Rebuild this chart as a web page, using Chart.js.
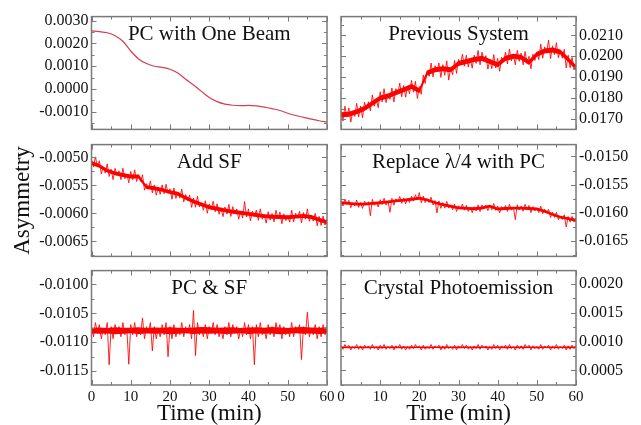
<!DOCTYPE html>
<html>
<head>
<meta charset="utf-8">
<script src="https://cdn.jsdelivr.net/npm/chart.js@4.4.0/dist/chart.umd.min.js"></script>
<style>
html, body { margin: 0; padding: 0; background: #fff; }
#wrap { position: relative; width: 641px; height: 425px; overflow: hidden; background: #fff; }
#wrap canvas { position: absolute; }
</style>
</head>
<body>
<div id="wrap">
  <canvas id="pcBeamChart"></canvas>
  <canvas id="previousChart"></canvas>
  <canvas id="addSFChart"></canvas>
  <canvas id="replaceChart"></canvas>
  <canvas id="pcSFChart"></canvas>
  <canvas id="crystalChart"></canvas>
</div>
<script>
// sample times (min)
const time = [0,0.5,1,1.5,2,2.5,3,3.5,4,4.5,5,5.5,6,6.5,7,7.5,8,8.5,9,9.5,
  10,10.5,11,11.5,12,12.5,13,13.5,14,14.5,15,15.5,16,16.5,17,17.5,18,18.5,19,19.5,
  20,20.5,21,21.5,22,22.5,23,23.5,24,24.5,25,25.5,26,26.5,27,27.5,28,28.5,29,29.5,
  30,30.5,31,31.5,32,32.5,33,33.5,34,34.5,35,35.5,36,36.5,37,37.5,38,38.5,39,39.5,
  40,40.5,41,41.5,42,42.5,43,43.5,44,44.5,45,45.5,46,46.5,47,47.5,48,48.5,49,49.5,
  50,50.5,51,51.5,52,52.5,53,53.5,54,54.5,55,55.5,56,56.5,57,57.5,58,58.5,59,59.5,60];
// coarse times for the smooth curve and the band cores
const coarseTime = [0,2,4,6,8,10,12,14,16,18,20,22,24,26,28,30,32,34,36,38,40,42,44,46,48,50,52,54,56,58,60];

// y tick labels of each panel
const pcBeamTicks = [-0.001, 0, 0.001, 0.002, 0.003];
const previousTicks = [0.017, 0.018, 0.019, 0.020, 0.021];
const addSFTicks = [-0.0065, -0.006, -0.0055, -0.005];
const replaceQWTicks = [-0.0165, -0.016, -0.0155, -0.015];
const pcSFTicks = [-0.0115, -0.011, -0.0105, -0.010];
const crystalTicks = [0.0005, 0.001, 0.0015, 0.002];

const pcBeam = [0.00255,0.00252,0.00247,0.00234,0.00210,0.00167,0.00132,0.00112,0.00100,0.00095,
  0.00087,0.00070,0.00043,0.00018,-0.00010,-0.00037,-0.00055,-0.00066,-0.00071,-0.00073,
  -0.00072,-0.00074,-0.00079,-0.00086,-0.00094,-0.00106,-0.00116,-0.00124,-0.00132,-0.00139,-0.00145];

const previous = [0.01740,0.01690,0.01761,0.01711,0.01752,0.01685,0.01738,0.01712,0.01775,0.01709,
  0.01762,0.01706,0.01780,0.01746,0.01782,0.01739,0.01815,0.01761,0.01797,0.01754,
  0.01830,0.01782,0.01845,0.01778,0.01820,0.01794,0.01848,0.01781,0.01845,0.01819,
  0.01872,0.01806,0.01860,0.01804,0.01858,0.01821,0.01885,0.01828,0.01880,0.01798,
  0.01855,0.01818,0.01910,0.01870,0.01930,0.01904,0.01968,0.01901,0.01955,0.01926,
  0.01968,0.01899,0.01960,0.01909,0.01978,0.01886,0.01945,0.01912,0.01980,0.01918,
  0.01985,0.01958,0.02010,0.01953,0.02005,0.01948,0.01990,0.01943,0.02005,0.01966,
  0.02028,0.01959,0.02020,0.01976,0.02003,0.01939,0.01985,0.01941,0.02008,0.01944,
  0.01990,0.01928,0.01995,0.01973,0.02020,0.01963,0.02035,0.01978,0.02010,0.01959,
  0.02028,0.01976,0.02015,0.01959,0.02023,0.01966,0.02000,0.01940,0.02010,0.01980,
  0.02020,0.01984,0.02058,0.01991,0.02045,0.02016,0.02078,0.01989,0.02050,0.02008,
  0.02065,0.01993,0.02030,0.01991,0.02033,0.01944,0.02005,0.01945,0.01995,0.01935,
  0.01965];
const previousHi = [0.01732,0.01734,0.01747,0.01762,0.01787,0.01812,0.01822,0.01837,0.01852,0.01867,
  0.01847,0.01932,0.01947,0.01952,0.01947,0.01977,0.01987,0.01997,0.02002,0.01987,
  0.01972,0.02002,0.02012,0.02007,0.01982,0.02022,0.02037,0.02042,0.02032,0.01997,0.01957];
const previousLo = [0.01708,0.01710,0.01723,0.01738,0.01763,0.01788,0.01798,0.01813,0.01828,0.01843,
  0.01823,0.01908,0.01923,0.01928,0.01923,0.01953,0.01963,0.01973,0.01978,0.01963,
  0.01948,0.01978,0.01988,0.01983,0.01958,0.01998,0.02013,0.02018,0.02008,0.01973,0.01933];

const addSF = [-0.005040,-0.005170,-0.004990,-0.005160,-0.005060,-0.005295,-0.005170,-0.005280,-0.005115,-0.005340,
  -0.005210,-0.005398,-0.005195,-0.005322,-0.005240,-0.005397,-0.005193,-0.005380,-0.005297,-0.005453,
  -0.005250,-0.005400,-0.005220,-0.005430,-0.005310,-0.005430,-0.005310,-0.005585,-0.005470,-0.005565,
  -0.005420,-0.005635,-0.005490,-0.005675,-0.005530,-0.005660,-0.005490,-0.005650,-0.005480,-0.005640,
  -0.005560,-0.005748,-0.005545,-0.005733,-0.005620,-0.005728,-0.005567,-0.005795,-0.005663,-0.005772,
  -0.005670,-0.005893,-0.005727,-0.005890,-0.005693,-0.005887,-0.005810,-0.005943,-0.005775,-0.005998,
  -0.005830,-0.005927,-0.005784,-0.005971,-0.005828,-0.006015,-0.005902,-0.006059,-0.005886,-0.006013,
  -0.005840,-0.006055,-0.005880,-0.006005,-0.005920,-0.006105,-0.005960,-0.006085,-0.005790,-0.006065,
  -0.005920,-0.006135,-0.005960,-0.006055,-0.005940,-0.006125,-0.005920,-0.006105,-0.006020,-0.006175,
  -0.005970,-0.006121,-0.006002,-0.006153,-0.005944,-0.006095,-0.005976,-0.006187,-0.006008,-0.006129,
  -0.006040,-0.006157,-0.005944,-0.006151,-0.005998,-0.006085,-0.005962,-0.006169,-0.005986,-0.006103,
  -0.005920,-0.006142,-0.006035,-0.006137,-0.006000,-0.006222,-0.006055,-0.006217,-0.006050,-0.006210,
  -0.006100];
const addSFHi = [-0.005065,-0.005115,-0.005200,-0.005250,-0.005278,-0.005305,-0.005305,-0.005495,-0.005515,-0.005545,
  -0.005585,-0.005615,-0.005688,-0.005752,-0.005805,-0.005855,-0.005883,-0.005911,-0.005935,-0.005955,
  -0.005975,-0.005995,-0.006015,-0.006027,-0.006031,-0.006035,-0.006023,-0.006011,-0.006030,-0.006080,-0.006125];
const addSFLo = [-0.005135,-0.005185,-0.005270,-0.005320,-0.005348,-0.005375,-0.005375,-0.005565,-0.005585,-0.005615,
  -0.005655,-0.005685,-0.005758,-0.005822,-0.005875,-0.005925,-0.005953,-0.005981,-0.006005,-0.006025,
  -0.006045,-0.006065,-0.006085,-0.006097,-0.006101,-0.006105,-0.006093,-0.006081,-0.006100,-0.006150,-0.006195];

const replaceQW = [-0.015784,-0.015877,-0.015754,-0.015847,-0.015778,-0.015907,-0.015820,-0.015877,-0.015772,-0.015901,
  -0.015814,-0.015919,-0.015790,-0.015859,-0.015802,-0.016050,-0.015760,-0.015865,-0.015808,-0.015895,
  -0.015766,-0.015852,-0.015740,-0.015862,-0.015786,-0.015990,-0.015742,-0.015864,-0.015752,-0.015802,
  -0.015708,-0.015830,-0.015736,-0.015841,-0.015747,-0.015815,-0.015704,-0.015790,-0.015678,-0.015763,
  -0.015640,-0.015820,-0.015701,-0.015817,-0.015752,-0.015818,-0.015721,-0.015859,-0.015781,-0.016000,
  -0.015786,-0.015919,-0.015818,-0.015915,-0.015796,-0.015911,-0.015864,-0.015943,-0.015842,-0.015975,
  -0.015874,-0.015930,-0.015842,-0.015952,-0.015864,-0.015974,-0.015904,-0.015996,-0.015890,-0.015964,
  -0.015858,-0.015976,-0.015859,-0.015923,-0.015861,-0.015960,-0.015862,-0.015946,-0.015833,-0.015954,
  -0.015876,-0.016000,-0.015890,-0.015942,-0.015868,-0.015974,-0.015846,-0.015952,-0.015896,-0.016120,
  -0.015856,-0.015948,-0.015878,-0.015970,-0.015846,-0.015938,-0.015868,-0.015996,-0.015890,-0.015964,
  -0.015912,-0.015994,-0.015878,-0.016014,-0.015934,-0.015998,-0.015936,-0.016080,-0.015989,-0.016079,
  -0.015988,-0.016121,-0.016055,-0.016116,-0.016033,-0.016250,-0.016064,-0.016162,-0.016061,-0.016159,
  -0.016094];
const replaceQWHi = [-0.015795,-0.015807,-0.015819,-0.015819,-0.015807,-0.015795,-0.015779,-0.015763,-0.015747,-0.015733,
  -0.015715,-0.015745,-0.015792,-0.015829,-0.015857,-0.015885,-0.015893,-0.015901,-0.015888,-0.015855,
  -0.015905,-0.015897,-0.015889,-0.015889,-0.015897,-0.015905,-0.015945,-0.016000,-0.016048,-0.016075,-0.016105];
const replaceQWLo = [-0.015845,-0.015857,-0.015869,-0.015869,-0.015857,-0.015845,-0.015829,-0.015813,-0.015797,-0.015783,
  -0.015765,-0.015795,-0.015842,-0.015879,-0.015907,-0.015935,-0.015943,-0.015951,-0.015938,-0.015905,
  -0.015955,-0.015947,-0.015939,-0.015939,-0.015947,-0.015955,-0.015995,-0.016050,-0.016098,-0.016125,-0.016155];

const pcSF = [-0.010730,-0.010905,-0.010660,-0.010835,-0.010695,-0.010940,-0.010765,-0.010870,-0.010660,-0.011390,
  -0.010730,-0.010940,-0.010695,-0.010835,-0.010730,-0.010905,-0.010660,-0.010870,-0.010765,-0.011380,
  -0.010695,-0.010870,-0.010660,-0.010905,-0.010765,-0.010870,-0.010580,-0.010940,-0.010730,-0.010835,
  -0.010660,-0.011150,-0.010730,-0.010940,-0.010765,-0.010905,-0.010695,-0.010870,-0.010660,-0.011250,
  -0.010730,-0.010940,-0.010695,-0.010905,-0.010765,-0.010870,-0.010660,-0.010905,-0.010730,-0.010835,
  -0.010695,-0.010940,-0.010450,-0.011230,-0.010660,-0.010870,-0.010765,-0.010905,-0.010695,-0.010940,
  -0.010730,-0.010835,-0.010660,-0.010870,-0.010695,-0.010905,-0.010765,-0.010940,-0.010730,-0.010870,
  -0.010660,-0.010905,-0.010695,-0.010835,-0.010730,-0.010940,-0.010765,-0.010905,-0.010660,-0.010870,
  -0.010695,-0.010940,-0.010730,-0.011390,-0.010695,-0.010905,-0.010660,-0.010870,-0.010765,-0.010940,
  -0.010695,-0.010870,-0.010730,-0.010905,-0.010660,-0.010835,-0.010695,-0.010940,-0.010730,-0.010870,
  -0.010765,-0.010905,-0.010660,-0.010905,-0.010730,-0.010835,-0.010695,-0.011300,-0.010730,-0.010870,
  -0.010480,-0.010905,-0.010765,-0.010870,-0.010695,-0.010940,-0.010730,-0.010905,-0.010695,-0.010870,
  -0.010730];
const pcSFHi = [-0.010750,-0.010745,-0.010755,-0.010740,-0.010750,-0.010748,-0.010742,-0.010752,-0.010745,-0.010750,
  -0.010740,-0.010748,-0.010752,-0.010744,-0.010735,-0.010742,-0.010750,-0.010746,-0.010740,-0.010752,
  -0.010745,-0.010742,-0.010750,-0.010738,-0.010746,-0.010752,-0.010742,-0.010736,-0.010745,-0.010750,-0.010742];
const pcSFLo = [-0.010850,-0.010855,-0.010848,-0.010860,-0.010852,-0.010846,-0.010858,-0.010850,-0.010854,-0.010848,
  -0.010860,-0.010852,-0.010846,-0.010856,-0.010850,-0.010854,-0.010848,-0.010858,-0.010852,-0.010846,
  -0.010856,-0.010850,-0.010854,-0.010848,-0.010860,-0.010852,-0.010846,-0.010854,-0.010850,-0.010856,-0.010850];

const crystal = [0.000924,0.000864,0.000948,0.000888,0.000936,0.000852,0.000912,0.000876,0.000948,0.000864,
  0.000924,0.000852,0.000936,0.000888,0.000924,0.000864,0.000948,0.000876,0.000912,0.000852,
  0.000936,0.000876,0.000948,0.000864,0.000912,0.000876,0.000936,0.000852,0.000924,0.000888,
  0.000948,0.000864,0.000924,0.000852,0.000912,0.000864,0.000936,0.000876,0.000948,0.000888,
  0.000924,0.000852,0.000936,0.000864,0.000912,0.000876,0.000948,0.000864,0.000924,0.000888,
  0.000936,0.000852,0.000924,0.000864,0.000948,0.000876,0.000912,0.000864,0.000936,0.000852,
  0.000924,0.000888,0.000948,0.000876,0.000936,0.000864,0.000912,0.000852,0.000924,0.000876,
  0.000948,0.000864,0.000936,0.000888,0.000924,0.000852,0.000912,0.000864,0.000948,0.000876,
  0.000936,0.000852,0.000924,0.000888,0.000936,0.000864,0.000948,0.000876,0.000912,0.000852,
  0.000936,0.000876,0.000924,0.000864,0.000948,0.000888,0.000936,0.000852,0.000924,0.000876,
  0.000912,0.000864,0.000948,0.000864,0.000924,0.000888,0.000936,0.000852,0.000924,0.000876,
  0.000948,0.000864,0.000912,0.000876,0.000936,0.000852,0.000924,0.000864,0.000936,0.000876,
  0.000924];
const crystalHi = [0.000912,0.000914,0.000912,0.000914,0.000912,0.000914,0.000912,0.000914,0.000912,0.000914,
  0.000912,0.000914,0.000912,0.000914,0.000912,0.000914,0.000912,0.000914,0.000912,0.000914,
  0.000912,0.000914,0.000912,0.000914,0.000912,0.000914,0.000912,0.000914,0.000912,0.000914,0.000912];
const crystalLo = [0.000886,0.000884,0.000886,0.000884,0.000886,0.000884,0.000886,0.000884,0.000886,0.000884,
  0.000886,0.000884,0.000886,0.000884,0.000886,0.000884,0.000886,0.000884,0.000886,0.000884,
  0.000886,0.000884,0.000886,0.000884,0.000886,0.000884,0.000886,0.000884,0.000886,0.000884,0.000886];

const xMarks = [0,5,10,15,20,25,30,35,40,45,50,55,60];

const FONT = '"Liberation Serif", "Times New Roman", serif';
const INK = '#111';
const RED = 'rgb(255,0,0)';

// frame, inward ticks and the title inside the plot
function framePlugin(title) {
    return {
        id: 'frame',
        afterDraw(chart) {
            const {ctx, chartArea: a} = chart;
            const xs = chart.scales.x, ys = chart.scales.y;
            ctx.save();
            ctx.strokeStyle = '#7a7a7a';
            ctx.lineWidth = 1;
            ctx.beginPath();
            xMarks.forEach(v => {
                const x = Math.round(xs.getPixelForValue(v)) + 0.5;
                const len = v % 10 === 0 ? 5 : 3;
                ctx.moveTo(x, a.bottom); ctx.lineTo(x, a.bottom - len);
                ctx.moveTo(x, a.top); ctx.lineTo(x, a.top + len);
            });
            const step = ys.options.ticks.stepSize / 2;
            for (let k = Math.ceil(ys.min / step); k <= Math.floor(ys.max / step); k++) {
                const y = Math.round(ys.getPixelForValue(k * step)) + 0.5;
                const len = k % 2 === 0 ? 5 : 3;
                ctx.moveTo(a.left, y); ctx.lineTo(a.left + len, y);
                ctx.moveTo(a.right, y); ctx.lineTo(a.right - len, y);
            }
            ctx.stroke();
            ctx.lineWidth = 1.5;
            ctx.strokeRect(a.left, a.top, a.right - a.left, a.bottom - a.top);
            ctx.fillStyle = INK;
            ctx.font = '21px ' + FONT;
            ctx.textAlign = 'center';
            ctx.textBaseline = 'alphabetic';
            ctx.fillText(title, (a.left + a.right) / 2, a.top + 23);
            ctx.restore();
        }
    };
}

function pts(xs, ys) {
    return xs.map((t, i) => ({x: t, y: ys[i]}));
}

function createPanel(id, p) {
    const canvas = document.getElementById(id);
    const right = p.col === 1;
    canvas.width = right ? 310 : 345;
    canvas.height = p.height;
    canvas.style.left = (right ? 331 : 0) + 'px';
    canvas.style.top = p.top + 'px';

    const datasets = [{
        data: pts(p.x, p.y),
        borderColor: p.color,
        borderWidth: p.width,
        pointRadius: 0,
        cubicInterpolationMode: p.smooth ? 'monotone' : 'default',
        tension: 0
    }];
    // solid core of the noisy band
    if (p.lo) {
        datasets.push({data: pts(coarseTime, p.lo), borderWidth: 0, pointRadius: 0, fill: false});
        datasets.push({data: pts(coarseTime, p.hi), borderWidth: 0, pointRadius: 0,
            fill: '-1', backgroundColor: RED});
    }

    return new Chart(canvas.getContext('2d'), {
        type: 'line',
        data: {datasets},
        options: {
            responsive: false,
            animation: false,
            devicePixelRatio: 1,
            layout: {
                padding: {top: 10, bottom: p.bottomPad, left: right ? 10 : 0, right: right ? 0 : 18}
            },
            plugins: {legend: {display: false}, tooltip: {enabled: false}},
            scales: {
                x: {
                    type: 'linear',
                    min: 0, max: 60,
                    display: p.showX,
                    grid: {display: false, drawTicks: false},
                    border: {display: false},
                    ticks: {stepSize: 10, padding: 3, color: INK, font: {family: FONT, size: 15}},
                    title: {display: true, text: 'Time (min)', color: INK, padding: 0,
                        font: {family: FONT, size: 23, lineHeight: 1}},
                    afterFit: s => { s.height = p.showX ? 40 : 0; }
                },
                y: {
                    type: 'linear',
                    position: right ? 'right' : 'left',
                    min: p.min, max: p.max,
                    grid: {display: false, drawTicks: false},
                    border: {display: false},
                    afterBuildTicks: s => { s.ticks = p.ticks.map(v => ({value: v})); },
                    ticks: {
                        stepSize: p.step,
                        autoSkip: false,
                        padding: 3,
                        color: INK,
                        font: {family: FONT, size: 16},
                        callback: v => v.toFixed(4)
                    },
                    title: {display: !!p.yTitle, text: p.yTitle || '', color: INK,
                        padding: {top: 9, bottom: 0}, font: {family: FONT, size: 23}},
                    afterFit: s => { s.width = right ? 65 : 91.5; }
                }
            }
        },
        plugins: [framePlugin(p.title)]
    });
}

const NOISY = 'rgba(255,0,0,0.85)';

createPanel('pcBeamChart', {col: 0, top: 4, height: 138, bottomPad: 10.5, showX: false,
    title: 'PC with One Beam', x: coarseTime, y: pcBeam, ticks: pcBeamTicks,
    min: -0.00177, max: 0.00318, step: 0.001, color: 'rgb(214,62,78)', width: 1.2, smooth: true});
createPanel('previousChart', {col: 1, top: 4, height: 138, bottomPad: 10.5, showX: false,
    title: 'Previous System', x: time, y: previous, hi: previousHi, lo: previousLo, ticks: previousTicks,
    min: 0.0165, max: 0.0219, step: 0.001, color: NOISY, width: 1});
createPanel('addSFChart', {col: 0, top: 131.5, height: 137, bottomPad: 10, showX: false,
    title: 'Add SF', x: time, y: addSF, hi: addSFHi, lo: addSFLo, ticks: addSFTicks,
    min: -0.00677, max: -0.00477, step: 0.0005, color: NOISY, width: 1, yTitle: 'Asymmetry'});
createPanel('replaceChart', {col: 1, top: 131.5, height: 137, bottomPad: 10, showX: false,
    title: 'Replace \u03bb/4 with PC', x: time, y: replaceQW, hi: replaceQWHi, lo: replaceQWLo, ticks: replaceQWTicks,
    min: -0.01677, max: -0.01479, step: 0.0005, color: NOISY, width: 1});
createPanel('pcSFChart', {col: 0, top: 258, height: 167, bottomPad: 0, showX: true,
    title: 'PC & SF', x: time, y: pcSF, hi: pcSFHi, lo: pcSFLo, ticks: pcSFTicks,
    min: -0.01174, max: -0.00976, step: 0.0005, color: NOISY, width: 1});
createPanel('crystalChart', {col: 1, top: 258, height: 167, bottomPad: 0, showX: true,
    title: 'Crystal Photoemission', x: time, y: crystal, hi: crystalHi, lo: crystalLo, ticks: crystalTicks,
    min: 0.000245, max: 0.00223, step: 0.0005, color: NOISY, width: 1});
</script>
</body>
</html>
